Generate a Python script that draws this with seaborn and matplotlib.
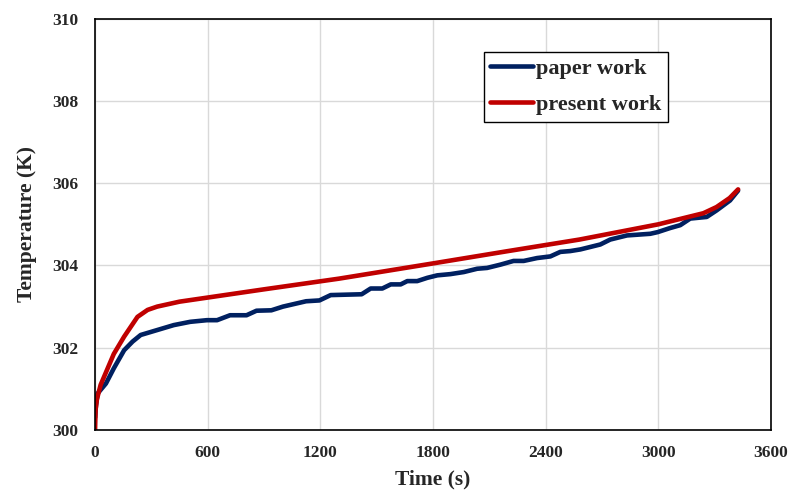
import numpy as np
import pandas as pd
import matplotlib
matplotlib.use("Agg")
import matplotlib.pyplot as plt
import seaborn as sb

presentTime = [0, 3, 10, 30, 58, 100, 155, 226, 280, 331, 450, 600, 900,
               1300, 1800, 2200, 2580, 3000, 3240, 3310, 3380, 3425]
presentTemp = [300.0, 300.5, 300.75, 301.1, 301.4, 301.85, 302.27, 302.75,
               302.92, 303.0, 303.12, 303.22, 303.42, 303.68, 304.05, 304.35,
               304.63, 305.0, 305.27, 305.42, 305.64, 305.85]

paperTime = [0, 5, 14, 58, 100, 155, 200, 243, 331, 419,
             507, 596, 650, 719, 807, 860, 939, 1001, 1124, 1195,
             1255, 1420, 1468, 1530, 1575, 1628, 1663, 1716, 1770, 1823,
             1893, 1964, 2035, 2088, 2159, 2229, 2283, 2354, 2425, 2478,
             2531, 2585, 2691, 2744, 2833, 2957, 2996, 3063, 3117, 3170,
             3258, 3311, 3382, 3425]
paperTemp = [300.3, 300.6, 300.89, 301.13, 301.5, 301.94, 302.15, 302.31, 302.43, 302.55,
             302.63, 302.67, 302.67, 302.79, 302.79, 302.9, 302.91, 303.0, 303.13, 303.15,
             303.28, 303.3, 303.44, 303.44, 303.54, 303.54, 303.62, 303.62, 303.70, 303.76,
             303.79, 303.84, 303.92, 303.94, 304.02, 304.11, 304.11, 304.18, 304.22, 304.33,
             304.35, 304.39, 304.51, 304.63, 304.73, 304.77, 304.81, 304.91, 304.98, 305.14,
             305.18, 305.34, 305.58, 305.82]

xTicks = [0, 600, 1200, 1800, 2400, 3000, 3600]
yTicks = [300, 302, 304, 306, 308, 310]

sb.set_style("whitegrid")
plt.rcParams['font.family'] = ['Liberation Serif', 'DejaVu Serif']
plt.rcParams['font.weight'] = 'bold'

fig = plt.figure(figsize=(8.02, 5.04), dpi=100)
ax = fig.add_axes([0.1185, 0.1468, 0.8428, 0.8162])

paper = pd.DataFrame({'Time': paperTime, 'Temp': paperTemp})
present = pd.DataFrame({'Time': presentTime, 'Temp': presentTemp})
sb.lineplot(data=paper, x='Time', y='Temp', color='#002060', linewidth=3.3,
            label='paper work', ax=ax, sort=False)
sb.lineplot(data=present, x='Time', y='Temp', color='#C00000', linewidth=3.3,
            label='present work', ax=ax, sort=False)

ax.set_xlim(0, 3600)
ax.set_ylim(300, 310)
ax.set_xticks(xTicks)
ax.set_yticks(yTicks)
ax.tick_params(axis='x', labelsize=12.5, length=0, pad=11)
ax.tick_params(axis='y', labelsize=12.5, length=0, pad=12)
for lab in ax.get_xticklabels() + ax.get_yticklabels():
    lab.set_fontweight('bold')
ax.grid(True, color='#d9d9d9', linewidth=1)
for s in ax.spines.values():
    s.set_color('black')
    s.set_linewidth(1.2)

ax.set_xlabel('Time (s)', fontsize=15.5, fontweight='bold', labelpad=6)
ax.set_ylabel('Temperature (K)', fontsize=15.5, fontweight='bold', labelpad=11)

leg = ax.legend(loc='upper left', bbox_to_anchor=(0.575, 0.92), fontsize=16,
                frameon=True, fancybox=False, edgecolor='black',
                handlelength=1.9, handletextpad=0.15, borderpad=0.3,
                labelspacing=0.7, borderaxespad=0, framealpha=1)
leg.get_frame().set_linewidth(1.0)
for t in leg.get_texts():
    t.set_fontweight('bold')

fig.savefig('out.png', dpi=100)
